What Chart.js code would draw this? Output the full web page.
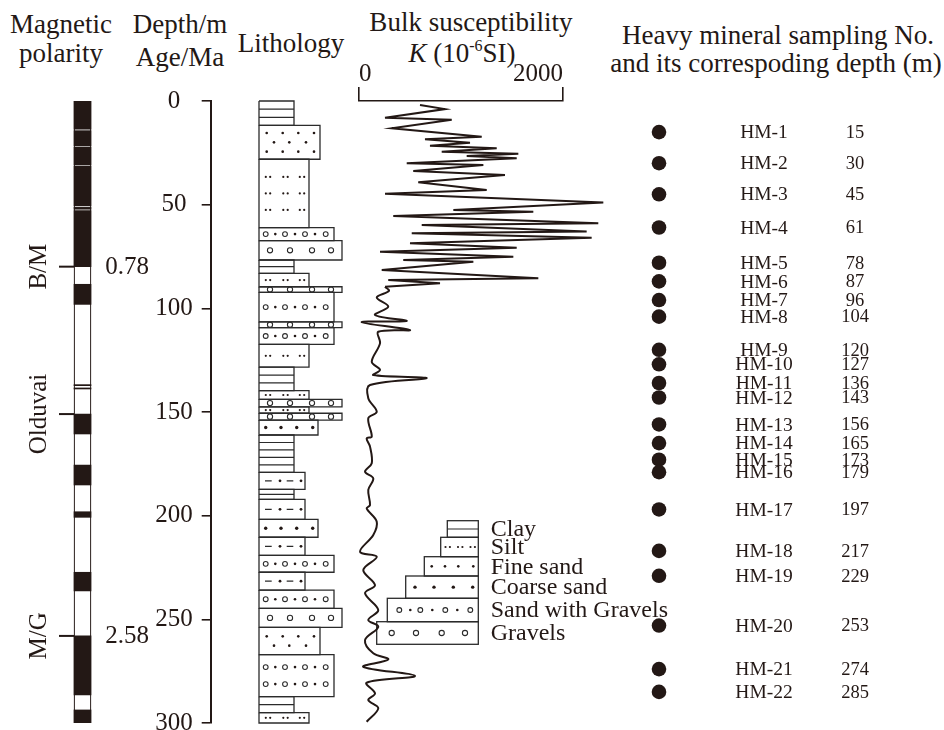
<!DOCTYPE html>
<html>
<head>
<meta charset="utf-8">
<script src="https://cdn.jsdelivr.net/npm/chart.js@4.4.1/dist/chart.umd.min.js"></script>
<style>
  html, body { margin: 0; padding: 0; background: #fff; overflow: hidden; width: 944px; height: 730px; }
  #wrap { position: relative; width: 944px; height: 730px; overflow: hidden;
          font-family: "Liberation Serif", "Times New Roman", serif; color: #231815; }
  canvas { position: absolute; top: 0; }
  .hd { position: absolute; white-space: nowrap; font-size: 27px; line-height: 27px; transform: translateX(-50%); }
  .hd sup { font-size: 16px; vertical-align: 0; position: relative; top: -11px; }
</style>
</head>
<body>
<div id="wrap">
  <div class="hd" style="left:61px;  top:11px">Magnetic</div>
  <div class="hd" style="left:61px;  top:40px">polarity</div>
  <div class="hd" style="left:180px; top:11px">Depth/m</div>
  <div class="hd" style="left:180px; top:44px">Age/Ma</div>
  <div class="hd" style="left:291px; top:30px">Lithology</div>
  <div class="hd" style="left:471px; top:9px">Bulk susceptibility</div>
  <div class="hd" style="left:462px; top:40px"><i>K</i> (10<sup>-6</sup>SI)</div>
  <div class="hd" style="left:778px; top:22px">Heavy mineral sampling No.</div>
  <div class="hd" style="left:776px; top:50px">and its correspoding depth (m)</div>

  <canvas id="cPol"  width="160" height="760" style="left:0px"></canvas>
  <canvas id="cAxis" width="120" height="760" style="left:100px"></canvas>
  <canvas id="cLith" width="460" height="760" style="left:230px"></canvas>
  <canvas id="cK"    width="340" height="760" style="left:300px"></canvas>
  <canvas id="cS"    width="324" height="760" style="left:620px"></canvas>
</div>

<script>
// ---------------- data ----------------
// Depth axis (m), shared by every column
const depthTicks = [0, 50, 100, 150, 200, 250, 300];

// Magnetic polarity: normal-polarity (black) intervals, depth in m
const normalTop  = [0,    14.3, 22.3, 31.5, 51.3, 52.9, 88.4, 136.8, 138.4, 151.0, 175.6, 198.1, 227.3, 258.0, 293.7];
const normalBase = [13.6, 21.7, 30.9, 50.6, 52.2, 79.9, 98.1, 137.3, 138.9, 160.6, 185.2, 200.8, 236.3, 286.5, 300];

// Polarity boundaries and their ages (Ma)
const boundaryName  = ['B/M', 'Olduvai', 'M/G'];
const boundaryDepth = [79.9, 151.0, 258.0];
const boundaryAge   = ['0.78', '', '2.58'];

// Lithology layers (depth in m)
const lithTop  = [0, 11.8, 28.1, 61.1, 67.3, 76.7, 83.1, 89.6, 92.3, 106.5, 109.3, 117.4, 128.4, 139.7, 143.9, 147.5,
                  150.6, 153.9, 161.1, 179.1, 187.3, 192.1, 201.8, 210.4, 219.2, 227.3, 235.9, 244.7, 253.9, 267.0, 287.3, 295.0];
const lithBase = [11.8, 28.1, 61.1, 67.3, 76.7, 83.1, 89.6, 92.3, 106.5, 109.3, 117.4, 128.4, 139.7, 143.9, 147.5, 150.6,
                  153.9, 161.1, 179.1, 187.3, 192.1, 201.8, 210.4, 219.2, 227.3, 235.9, 244.7, 253.9, 267.0, 287.3, 295.0, 300];
const lithType = ['clay', 'fineSand', 'silt', 'sandGravel', 'gravel', 'clay', 'silt', 'gravel', 'sandGravel', 'gravel',
                  'sandGravel', 'silt', 'clay', 'silt', 'gravel', 'silt', 'gravel', 'coarseSand', 'clay', 'sandySilt',
                  'clay', 'sandySilt', 'coarseSand', 'sandySilt', 'sandGravel', 'sandySilt', 'sandGravel', 'gravel',
                  'fineSand', 'sandGravel', 'clay', 'silt'];
// Relative grain-size index that sets the width of each layer
const lithGrade = { clay: 35, sandySilt: 46, silt: 50, coarseSand: 59, fineSand: 61, sandGravel: 75, gravel: 83 };

// Legend entries
const legendType  = ['clay', 'silt', 'fineSand', 'coarseSand', 'sandGravel', 'gravel'];
const legendLabel = ['Clay', 'Silt', 'Fine sand', 'Coarse sand', 'Sand with Gravels', 'Gravels'];

// Bulk susceptibility K (10^-6 SI) against depth (m)
const kDepthUpper = [1.9, 3.9, 8.1, 9.0, 13.2, 17.2, 18.5, 20.1, 21.6, 22.8, 24.5, 25.4, 26.5, 27.6, 30.0, 30.9, 33.8, 35.7,
                     39.2, 42.9, 44.7, 48.9, 52.6, 53.4, 55.5, 59.0, 59.8, 63.0, 63.8, 65.9, 68.6, 70.8, 72.7, 75.1, 76.7,
                     77.5, 81.5, 85.5, 86.3, 87.9, 89.6];
const kValueUpper = [598, 843, 255, 909, 321, 1203, 647, 1088, 696, 1350, 811, 1562, 1056, 1546, 468, 1219, 532, 1431,
                     581, 1252, 255, 2395, 925, 1709, 336, 2346, 615, 2232, 517, 2281, 500, 1546, 206, 1513, 434,
                     1121, 223, 1758, 287, 794, 255];
const kDepthLower = [89.6, 91.6, 94.8, 99.2, 103.2, 106.1, 106.7, 110.5, 111.3, 116.9, 125.8, 129.7, 132.2, 133.7, 137.0,
                     143.4, 149.9, 153.0, 161.9, 162.7, 166.7, 174.7, 178.8, 182.0, 187.6, 194.9, 196.5, 202.9, 209.3,
                     217.4, 219.8, 226.2, 233.5, 237.4, 245.5, 250.3, 253.6, 260.0, 266.4, 269.3, 272.9, 277.3, 280.6,
                     285.7, 288.9, 292.9, 299.4];
const kValueLower = [255, 294, 174, 287, 157, 468, 26, 500, 189, 206, 125, 206, 140, 664, 108,
                     91, 174, 91, 125, 75, 108, 125, 59, 140, 91, 108, 75, 174, 140,
                     10, 174, 42, 157, 59, 189, 91, 189, 59, 140, 287, 42, 549, 75,
                     157, 91, 189, 75];
const kTicks = [0, 2000];

// Heavy mineral samples
const sampleNo    = ['HM-1', 'HM-2', 'HM-3', 'HM-4', 'HM-5', 'HM-6', 'HM-7', 'HM-8', 'HM-9', 'HM-10', 'HM-11',
                     'HM-12', 'HM-13', 'HM-14', 'HM-15', 'HM-16', 'HM-17', 'HM-18', 'HM-19', 'HM-20', 'HM-21', 'HM-22'];
const sampleDepth = [15, 30, 45, 61, 78, 87, 96, 104, 120, 127, 136, 143, 156, 165, 173, 179, 197, 217, 229, 253, 274, 285];

// ---------------- styling ----------------
const INK = '#231815';
const LINE = '#2b2b2b';
const FONT = '"Liberation Serif", "Times New Roman", serif';
Chart.defaults.font.family = FONT;
Chart.defaults.color = INK;
Chart.defaults.animation = false;
Chart.defaults.events = [];
Chart.defaults.plugins.legend.display = false;
Chart.defaults.plugins.tooltip.enabled = false;

// every column: chart area from y=101 to y=723
const PAD_TOP = 101, PAD_BOTTOM = 37;
const depthScale = () => ({ type: 'linear', reverse: true, min: 0, max: 300, display: false });

// ---------------- lithology symbols ----------------
function dot(ctx, x, y, r) { ctx.beginPath(); ctx.arc(x, y, r, 0, Math.PI * 2); ctx.fill(); }
function ring(ctx, x, y, r) { ctx.beginPath(); ctx.arc(x, y, r, 0, Math.PI * 2); ctx.stroke(); }
function rowCenters(t, b, perRow, gap) {
  const n = Math.max(1, Math.floor((b - t) / perRow));
  const mid = (t + b) / 2;
  return Array.from({ length: n }, (_, k) => mid + (k - (n - 1) / 2) * gap);
}
const SYMBOL = {
  clay(ctx, l, t, r, b) {
    const h = b - t, n = Math.max(1, Math.round(h / 8) - 1);
    ctx.lineWidth = 1.2;
    for (let i = 1; i <= n; i++) {
      const y = t + h * i / (n + 1);
      ctx.beginPath(); ctx.moveTo(l, y); ctx.lineTo(r, y); ctx.stroke();
    }
  },
  silt(ctx, l, t, r, b, s) {
    rowCenters(t, b, s.perRow, s.gap).forEach(y =>
      s.pairs.forEach(o => { dot(ctx, l + o - 2.2, y, 1.1); dot(ctx, l + o + 2.2, y, 1.1); }));
  },
  sandySilt(ctx, l, t, r, b, s) {
    const y = (t + b) / 2;
    ctx.lineWidth = 1.2;
    s.dashes.forEach(([a, c]) => { ctx.beginPath(); ctx.moveTo(l + a, y); ctx.lineTo(l + c, y); ctx.stroke(); });
    s.dots.forEach(o => dot(ctx, l + o, y, 1.4));
  },
  fineSand(ctx, l, t, r, b, s) {
    rowCenters(t, b, s.perRow, s.gap).forEach((y, k) =>
      (k % 2 ? s.rowB : s.rowA).forEach(o => dot(ctx, l + o, y, 1.3)));
  },
  coarseSand(ctx, l, t, r, b, s) {
    const y = (t + b) / 2;
    s.dots.forEach(o => dot(ctx, l + o, y, 1.7));
  },
  sandGravel(ctx, l, t, r, b, s) {
    ctx.lineWidth = 1.1;
    rowCenters(t, b, s.perRow, s.gap).forEach(y => {
      s.rings.forEach(o => ring(ctx, l + o, y, 2.4));
      s.dots.forEach(o => dot(ctx, l + o, y, 1.3));
    });
  },
  gravel(ctx, l, t, r, b, s) {
    const y = (t + b) / 2;
    ctx.lineWidth = 1.1;
    s.rings.forEach(o => ring(ctx, l + o, y, 2.6));
  }
};
const COLUMN_SYMBOL = {
  clay: {},
  silt: { perRow: 18, gap: 16.5, pairs: [9, 26.5, 43] },
  sandySilt: { dashes: [[6, 12.7], [27.7, 34.3]], dots: [21, 42] },
  fineSand: { perRow: 11, gap: 9.3, rowA: [7.7, 23.7, 39.3, 55], rowB: [15, 30.3, 47] },
  coarseSand: { dots: [6.7, 22, 37.7, 53.7] },
  sandGravel: { perRow: 20, gap: 17, rings: [6.7, 26, 46, 66.7], dots: [16.3, 36, 56] },
  gravel: { rings: [11, 31, 53, 72] }
};
const LEGEND_SYMBOL = {
  clay: {},
  silt: { perRow: 100, gap: 0, pairs: [7, 19.5, 32] },
  fineSand: { perRow: 100, gap: 0, rowA: [7.4, 20.7, 34, 49], rowB: [] },
  coarseSand: { dots: [9.3, 28.3, 47.6, 67] },
  sandGravel: { perRow: 100, gap: 0, rings: [12, 33, 58, 83], dots: [23, 45, 70] },
  gravel: { rings: [15, 39.3, 65, 88.3] }
};
// legend boxes (page px): left, top, bottom; all end at the same right edge
const LEGEND_BOX = [[447.3, 520.7, 537.3], [440.7, 537.3, 556.7], [424.3, 556.7, 576],
                    [405.7, 576, 598.3], [387.3, 598.3, 621.7], [376.7, 621.7, 644.3]];
const LEGEND_RIGHT = 478.3, LEGEND_TEXT_X = 490.7;

// ---------------- magnetic polarity ----------------
const polarityMarks = {
  id: 'polarityMarks',
  afterDatasetsDraw(chart) {
    const { ctx, scales: { y } } = chart;
    const bar = chart.getDatasetMeta(0).data[0];
    const colLeft = bar.x - bar.width / 2;
    ctx.save();
    ctx.strokeStyle = INK; ctx.fillStyle = INK; ctx.lineWidth = 2;
    ctx.font = '25px ' + FONT;
    ctx.textAlign = 'center'; ctx.textBaseline = 'middle';
    boundaryDepth.forEach((d, i) => {
      const py = y.getPixelForValue(d);
      ctx.beginPath(); ctx.moveTo(colLeft - 15, py); ctx.lineTo(colLeft, py); ctx.stroke();
      ctx.save(); ctx.translate(colLeft - 36, py); ctx.rotate(-Math.PI / 2);
      ctx.fillText(boundaryName[i], 0, 1); ctx.restore();
      if (boundaryAge[i]) ctx.fillText(boundaryAge[i], colLeft + 53, py + 1);
    });
    ctx.restore();
  }
};
new Chart(document.getElementById('cPol'), {
  type: 'bar',
  data: {
    labels: ['polarity'],
    datasets: [
      { data: [[0, 300]], backgroundColor: '#ffffff', borderColor: INK, borderWidth: 1.2, borderSkipped: false, order: 1 },
      ...normalTop.map((t, i) => ({ data: [[t, normalBase[i]]], backgroundColor: INK, borderWidth: 0, order: 0 }))
    ]
  },
  options: {
    responsive: false,
    layout: { padding: { left: 70, right: 65, top: PAD_TOP, bottom: PAD_BOTTOM } },
    datasets: { bar: { barThickness: 17, grouped: false } },
    scales: { x: { display: false }, y: depthScale() }
  },
  plugins: [polarityMarks]
});

// ---------------- depth axis ----------------
new Chart(document.getElementById('cAxis'), {
  type: 'scatter',
  data: { datasets: [] },
  options: {
    responsive: false,
    layout: { padding: { left: 0, right: 0, top: PAD_TOP, bottom: PAD_BOTTOM } },
    scales: {
      x: { type: 'linear', display: false, min: 0, max: 1 },
      y: {
        type: 'linear', reverse: true, min: 0, max: 300, position: 'left',
        afterFit(s) { s.width = 110.7; },
        afterBuildTicks(s) { s.ticks = depthTicks.map(v => ({ value: v })); },
        ticks: { font: { size: 25 }, color: INK, padding: 9, crossAlign: 'center', callback: v => String(v) },
        grid: { drawOnChartArea: false, tickLength: 9, color: INK, lineWidth: 1.6 },
        border: { display: true, color: INK, width: 2 }
      }
    }
  }
});

// ---------------- lithology column + legend ----------------
const LITH_LEFT = 230; // canvas offset on the page
const lithSymbols = {
  id: 'lithSymbols',
  beforeDatasetsDraw(chart) {
    const { ctx, scales: { x, y } } = chart;
    ctx.save();
    ctx.fillStyle = INK; ctx.strokeStyle = LINE;
    lithType.forEach((type, i) => {
      const l = x.getPixelForValue(0), r = x.getPixelForValue(lithGrade[type]);
      const t = y.getPixelForValue(lithTop[i]), b = y.getPixelForValue(lithBase[i]);
      ctx.save();
      ctx.beginPath(); ctx.rect(l, t, r - l, b - t); ctx.clip();
      SYMBOL[type](ctx, l, t, r, b, COLUMN_SYMBOL[type]);
      ctx.restore();
    });
    ctx.restore();
  },
  afterDraw(chart) {
    const ctx = chart.ctx;
    ctx.save();
    ctx.fillStyle = INK; ctx.strokeStyle = LINE;
    legendType.forEach((type, i) => {
      const [pl, t, b] = LEGEND_BOX[i];
      const l = pl - LITH_LEFT, r = LEGEND_RIGHT - LITH_LEFT;
      ctx.save();
      ctx.beginPath(); ctx.rect(l, t, r - l, b - t); ctx.clip();
      SYMBOL[type](ctx, l, t, r, b, LEGEND_SYMBOL[type]);
      ctx.restore();
      ctx.lineWidth = 1.3;
      ctx.strokeRect(l, t, r - l, b - t);
      ctx.font = '24px ' + FONT;
      ctx.textAlign = 'left'; ctx.textBaseline = 'middle';
      ctx.fillText(legendLabel[i], LEGEND_TEXT_X - LITH_LEFT, (t + b) / 2 + 1);
    });
    ctx.restore();
  }
};
const rectPath = (w, t, b) => [{ x: 0, y: t }, { x: w, y: t }, { x: w, y: b }, { x: 0, y: b }, { x: 0, y: t }];
new Chart(document.getElementById('cLith'), {
  type: 'scatter',
  data: {
    datasets: lithType.map((type, i) => ({
      data: rectPath(lithGrade[type], lithTop[i], lithBase[i]),
      showLine: true, borderColor: LINE, borderWidth: 1.3, pointRadius: 0,
      tension: 0, clip: false, borderJoinStyle: 'miter'
    }))
  },
  options: {
    responsive: false,
    layout: { padding: { left: 29, right: 331, top: PAD_TOP, bottom: PAD_BOTTOM } },
    scales: { x: { type: 'linear', display: false, min: 0, max: 100 }, y: depthScale() }
  },
  plugins: [lithSymbols]
});

// ---------------- bulk susceptibility ----------------
const zip = (xs, ys) => xs.map((v, i) => ({ x: v, y: ys[i] }));
new Chart(document.getElementById('cK'), {
  type: 'scatter',
  data: {
    datasets: [
      { data: zip(kValueUpper, kDepthUpper), showLine: true, tension: 0, borderColor: INK, borderWidth: 2,
        pointRadius: 0, clip: false, borderJoinStyle: 'miter' },
      { data: zip(kValueLower, kDepthLower), showLine: true, tension: 0.35, borderColor: INK, borderWidth: 2,
        pointRadius: 0, clip: false }
    ]
  },
  options: {
    responsive: false,
    layout: { padding: { left: 59, right: 77, top: PAD_TOP - 40, bottom: PAD_BOTTOM } },
    scales: {
      x: {
        type: 'linear', position: 'top', min: 0, max: 2000,
        afterFit(s) { s.height = 40; },
        afterBuildTicks(s) { s.ticks = kTicks.map(v => ({ value: v })); },
        ticks: { font: { size: 25 }, color: INK, padding: -2, align: 'inner', maxRotation: 0, autoSkip: false,
                 callback: v => String(v) },
        grid: { drawOnChartArea: false, tickLength: 14, color: INK, lineWidth: 1.6 },
        border: { display: true, color: INK, width: 1.6 }
      },
      y: depthScale()
    }
  }
});

// ---------------- heavy mineral samples ----------------
const sampleLabels = {
  id: 'sampleLabels',
  afterDatasetsDraw(chart) {
    const { ctx } = chart;
    ctx.save();
    ctx.fillStyle = INK; ctx.textAlign = 'center'; ctx.textBaseline = 'middle';
    chart.getDatasetMeta(0).data.forEach((pt, i) => {
      ctx.font = '19.5px ' + FONT;
      ctx.fillText(sampleNo[i], 144, pt.y + 1);
      ctx.font = '18.5px ' + FONT;
      ctx.fillText(String(sampleDepth[i]), 235, pt.y + 1);
    });
    ctx.restore();
  }
};
new Chart(document.getElementById('cS'), {
  type: 'scatter',
  data: { datasets: [{ data: sampleDepth.map(d => ({ x: 0, y: d })), pointRadius: 7.3,
                       pointBackgroundColor: INK, pointBorderWidth: 0, clip: false }] },
  options: {
    responsive: false,
    layout: { padding: { left: 29, right: 275, top: PAD_TOP, bottom: PAD_BOTTOM } },
    scales: { x: { type: 'linear', display: false, min: -1, max: 1 }, y: depthScale() }
  },
  plugins: [sampleLabels]
});
</script>
</body>
</html>
